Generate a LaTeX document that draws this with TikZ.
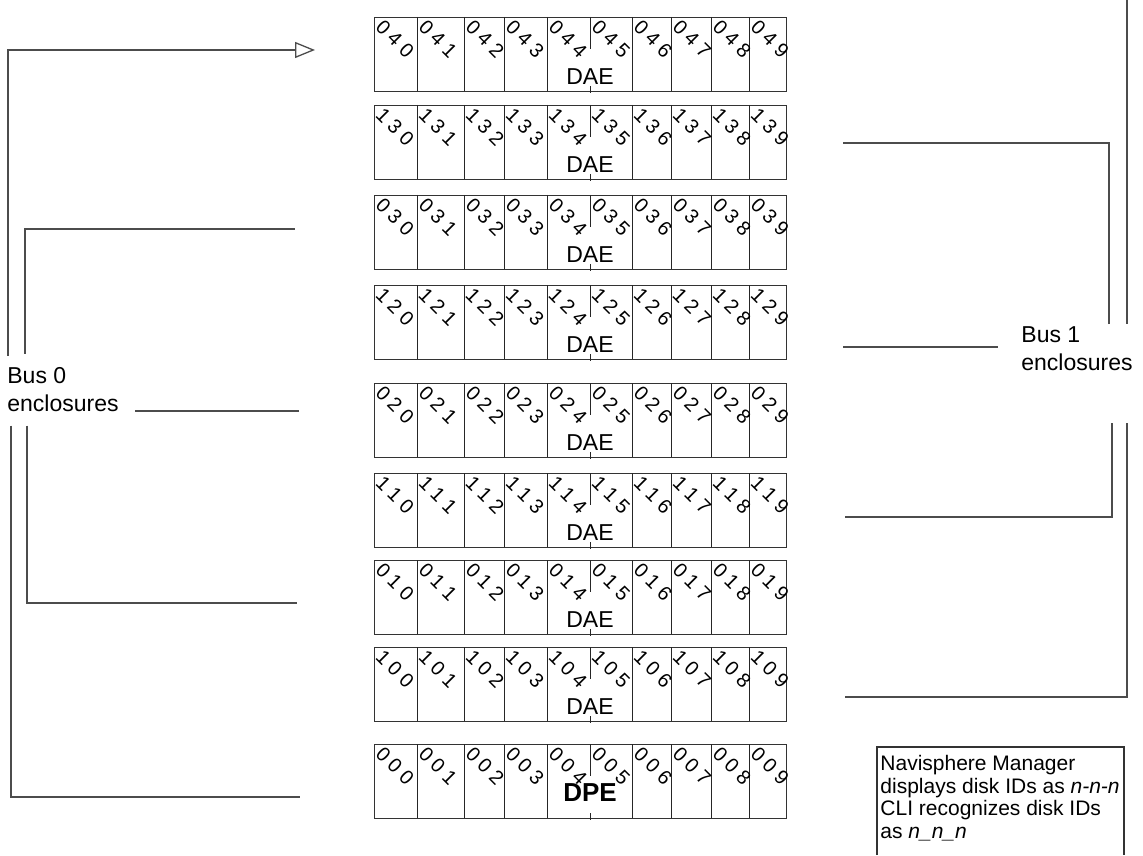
\documentclass[tikz,border=0pt]{standalone}
\usepackage{fontspec}
\setmainfont{Liberation Sans}
\usetikzlibrary{arrows.meta}

\newcommand\dpefont{\fontsize{13}{13}\selectfont\bfseries}

\begin{document}
\begin{tikzpicture}[
    x=0.5pt, y=-0.5pt,
    encl/.style={rectangle, draw=black!80, line width=0.65pt, anchor=north west,
                 minimum width=206pt, minimum height=37pt, inner sep=0},
    slotline/.style={black!85, line width=0.5pt},
    slotid/.style={rotate=-45, inner sep=0, font=\fontsize{10}{10}\selectfont},
    daetext/.style={inner sep=0, font=\fontsize{11.5}{14}\selectfont},
    buslabel/.style={align=left, anchor=north west, inner sep=0,
                     font=\fontsize{11.5}{14}\selectfont},
    notetext/.style={align=left, anchor=north west, inner sep=0,
                     font=\fontsize{10.5}{11.25}\selectfont},
    bus/.style={black!70, line width=0.65pt}
]
    \useasboundingbox (0,0) rectangle (1143,855);

    % Enclosures (top / bus digit / enclosure digit / name / label / label offset)
    \foreach \ty/\da/\db/\nm/\lbl/\dy in {17/0/4/e04/DAE/60, 105/1/3/e13/DAE/60,
            195/0/3/e03/DAE/60, 285/1/2/e12/DAE/60, 383/0/2/e02/DAE/60,
            473/1/1/e11/DAE/60, 560/0/1/e01/DAE/60, 647/1/0/e10/DAE/60,
            744/0/0/e00/{\dpefont DPE}/49}{
        \node[encl] (\nm) at (374,\ty) {};
        \foreach \d in {43,90,130,173,258,297,337,375}
            \draw[slotline] (374+\d,\ty) -- (374+\d,\ty+74);
        \draw[slotline] (590,\ty) -- (590,\ty+32);
        \draw[slotline] (590,\ty+69) -- (590,\ty+76);
        \foreach \k/\L in {0/0,1/43,2/90,3/130,4/173,5/216,6/258,7/297,8/337,9/375}
            \node[slotid] (\nm-\k) at (374+\L+21,\ty+22) {\da\kern2.7pt\db\kern2.7pt\k};
        \node[daetext] (\nm-lbl) at (590,\ty+\dy) {\lbl};
    }

    % Bus labels
    \node[buslabel] (bus0) at (7,367.5) {Bus 0\\enclosures};
    \node[buslabel] (bus1) at (1021,326.5) {Bus 1\\enclosures};

    % Free ends near the enclosures
    \coordinate (c040) at (315,50);
    \coordinate (c030) at (295,229);
    \coordinate (c020) at (299,411);
    \coordinate (c010) at (297,603);
    \coordinate (c000) at (300,797);
    \coordinate (c140) at (1127,0);
    \coordinate (c130) at (843,143);
    \coordinate (c120) at (843,347);
    \coordinate (c110) at (845,517);
    \coordinate (c100) at (845,697);

    % Bus 0 connections
    \draw[bus, -{Triangle[open, length=10pt, width=8pt]}]
        ([shift={(0.5pt,6pt)}]bus0.north west) |- (c040);
    \draw[bus] ([shift={(9pt,7pt)}]bus0.north west) |- (c030);
    \draw[bus, shorten >=8pt] (c020) -- (c020 -| bus0.east);
    \draw[bus] ([shift={(10pt,-6.5pt)}]bus0.south west) |- (c010);
    \draw[bus] ([shift={(2pt,-6.5pt)}]bus0.south west) |- (c000);

    % Bus 1 connections
    \draw[bus] (c140) -- ([shift={(53pt,1.25pt)}]bus1.north west);
    \draw[bus] ([shift={(44pt,1.25pt)}]bus1.north west) |- (c130);
    \draw[bus, shorten >=11.5pt] (c120) -- (c120 -| bus1.west);
    \draw[bus] ([shift={(45.5pt,-26pt)}]bus1.south west) |- (c110);
    \draw[bus] ([shift={(53pt,-26pt)}]bus1.south west) |- (c100);

    % Note
    \node[notetext] (note) at (880,755)
        {Navisphere Manager\\displays disk IDs as \textit{n-n-n}\\CLI recognizes disk IDs\\as \textit{n\_n\_n}};
    \draw[black!80, line width=0.6pt] (877,855) |- (1124,747) -- (1124,855);

\end{tikzpicture}
\end{document}
